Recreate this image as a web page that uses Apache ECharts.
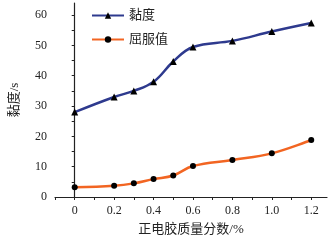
<!DOCTYPE html>
<html>
<head>
<meta charset="utf-8">
<script src="https://cdn.jsdelivr.net/npm/echarts@6/dist/echarts.min.js"></script>
<style>
html, body { margin: 0; padding: 0; background: #fff; }
#main { width: 330px; height: 241px; }
</style>
</head>
<body>
<div id="main"></div>
<script>
var xVals = [0, 0.2, 0.3, 0.4, 0.5, 0.6, 0.8, 1.0, 1.2];
var viscosity = [28, 33, 35, 38, 44.7, 49.5, 51.5, 54.6, 57.4];
var yieldVal = [3.2, 3.7, 4.5, 5.9, 7.1, 10.2, 12.2, 14.4, 18.8];
var xLabels = ['0', '0.2', '0.4', '0.6', '0.8', '1.0', '1.2'];
var yLabels = ['0', '10', '20', '30', '40', '50', '60'];

function pairs(ys) {
    var out = [];
    for (var i = 0; i < xVals.length; i++) {
        out.push([xVals[i], ys[i]]);
    }
    return out;
}

var font = '"Liberation Serif", "Noto Sans CJK SC", serif';

var myChart = echarts.init(document.getElementById('main'));
var option = {
    animation: false,
    textStyle: { fontFamily: font },
    legend: {
        left: 86,
        top: 4,
        orient: 'vertical',
        itemWidth: 32,
        itemHeight: 8,
        itemGap: 11,
        textStyle: { fontFamily: font, fontSize: 13, color: '#222' },
        data: ['黏度', '屈服值']
    },
    grid: {
        left: 48,
        right: 3,
        top: 3,
        bottom: 42
    },
    xAxis: {
        type: 'value',
        min: -0.1,
        max: 1.28,
        interval: 0.1,
        name: '正电胶质量分数/%',
        nameLocation: 'middle',
        nameGap: 26,
        nameTextStyle: { fontFamily: font, fontSize: 13, color: '#222' },
        axisLine: { lineStyle: { color: '#222', width: 1.2 } },
        axisTick: { inside: false, length: 3, lineStyle: { color: '#222' } },
        splitLine: { show: false },
        axisLabel: {
            margin: 8,
            fontFamily: font,
            fontSize: 12,
            color: '#222',
            showMaxLabel: false,
            formatter: function (v) {
                var r = Math.round(v * 10);
                if (r < 0 || r % 2 !== 0) return '';
                return xLabels[r / 2] || '';
            }
        }
    },
    yAxis: {
        type: 'value',
        min: 0,
        max: 64,
        interval: 5,
        name: '黏度/s',
        nameLocation: 'middle',
        nameGap: 34,
        nameTextStyle: { fontFamily: font, fontSize: 13, color: '#222' },
        axisLine: { show: true, lineStyle: { color: '#222', width: 1.2 } },
        axisTick: { show: true, length: 3, lineStyle: { color: '#222' } },
        splitLine: { show: false },
        axisLabel: {
            margin: 8,
            fontFamily: font,
            fontSize: 12,
            color: '#222',
            showMaxLabel: false,
            formatter: function (v) {
                if (v % 10 !== 0) return '';
                return yLabels[v / 10] || '';
            }
        }
    },
    series: [
        {
            name: '黏度',
            type: 'line',
            smooth: 0.4,
            data: pairs(viscosity),
            symbol: 'triangle',
            symbolSize: 7,
            lineStyle: { color: '#2e3a8e', width: 2.5 },
            itemStyle: { color: '#000' }
        },
        {
            name: '屈服值',
            type: 'line',
            smooth: 0.4,
            data: pairs(yieldVal),
            symbol: 'circle',
            symbolSize: 6,
            lineStyle: { color: '#f26522', width: 2.5 },
            itemStyle: { color: '#000' }
        }
    ]
};
myChart.setOption(option);
</script>
</body>
</html>
